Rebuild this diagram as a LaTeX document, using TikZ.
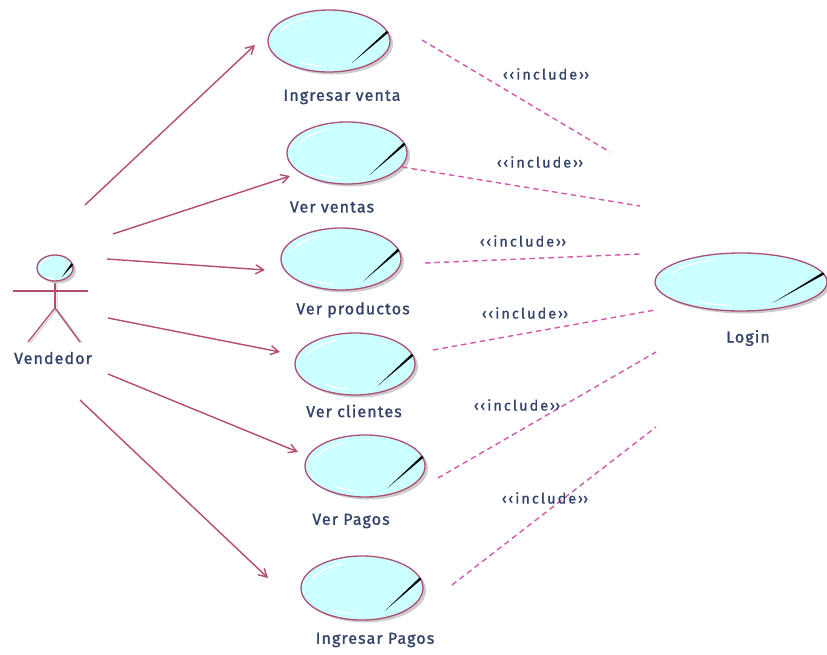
\documentclass[tikz,border=0pt]{standalone}
\usepackage{fontspec}
\setmainfont{Fira Sans}
\newfontfamily\lblfont{Fira Sans}[LetterSpace=7,FakeBold=1.4]
\newfontfamily\inclfont{Fira Sans}[LetterSpace=14,FakeBold=0.9]
\usetikzlibrary{arrows.meta,shadows,shapes.geometric}
\definecolor{ucborder}{HTML}{AC4F76}
\definecolor{ucfill}{HTML}{CCFFFF}
\definecolor{assoc}{HTML}{B24C72}
\definecolor{incl}{HTML}{D25AA8}
\definecolor{txt}{HTML}{34436A}
\tikzset{
  ucnode/.style={ellipse, draw=ucborder, line width=1.3pt, fill=ucfill, inner sep=0pt,
    drop shadow={shadow xshift=3pt, shadow yshift=-2.5pt, fill=black!20, opacity=1}},
  lbl/.style={text=txt, font=\lblfont\fontsize{16}{18}\selectfont, inner sep=0pt},
  incltxt/.style={text=txt, font=\inclfont\fontsize{14.5}{16}\selectfont, inner sep=0pt},
  assocline/.style={draw=assoc, line width=1.4pt, -{Straight Barb[length=8pt,width=9pt]}},
  inclline/.style={draw=incl, line width=1.4pt, dash pattern=on 5.5pt off 4pt},
  actorline/.style={draw=assoc, line width=1.3pt},
  actorshadow/.style={draw=black!20, line width=1pt},
}
% name, cx, cy, rx, ry
\newcommand\ucase[5]{%
  \node[ucnode, minimum width=#4*2pt, minimum height=#5*2pt] (#1) at (#2,#3) {};
  \draw[white, line width=1.1pt] plot[domain=112:160, samples=20] ({#2+0.86*#4*cos(\x)},{#3-0.82*#5*sin(\x)});
  \draw[white, line width=1.1pt] plot[domain=235:262, samples=12] ({#2+0.86*#4*cos(\x)},{#3-0.82*#5*sin(\x)});
  \fill[black] ({#2+0.96*#4+0.9},{#3-0.30*#5+0.9}) -- ({#2+0.96*#4-0.9},{#3-0.30*#5-0.9}) -- ({#2+0.37*#4},{#3+0.72*#5}) -- cycle;
}
\begin{document}
\begin{tikzpicture}[x=1pt,y=-1pt]
\useasboundingbox (0,0) rectangle (827,655);

% use cases
\ucase{uc1}{329}{41}{61}{31}
\ucase{uc2}{347}{153}{60}{31}
\ucase{uc3}{341}{259}{60}{31}
\ucase{uc4}{355}{364}{60}{31}
\ucase{uc5}{365}{466}{60}{31}
\ucase{uc6}{362}{588}{61}{32}
\ucase{login}{741}{282}{86}{29}

\node[lbl] (l1) at (342,97) {Ingresar venta};
\node[lbl] (l2) at (332,207) {Ver ventas};
\node[lbl] (l3) at (353,310) {Ver productos};
\node[lbl] (l4) at (354,411) {Ver clientes};
\node[lbl] (l5) at (351,521) {Ver Pagos};
\node[lbl] (l6) at (375,640) {Ingresar Pagos};
\node[lbl] (l7) at (748,338) {Login};

% actor
\draw[actorshadow] (57,283) -- (57,309) (30,343) -- (57,309) -- (82,343);
\draw[actorline] (55,281) -- (55,308);
\draw[actorline] (13,291) -- (88,291);
\draw[actorline] (28,342) -- (55,308) -- (80,342);
\ucase{head}{55}{268}{18}{13}
\node[lbl] (actor) at (53,358) {Vendedor};

% association endpoints
\coordinate (a1) at (85,205);  \coordinate (b1) at (255,45);
\coordinate (a2) at (113,234); \coordinate (b2) at (290,176);
\coordinate (a3) at (107,259); \coordinate (b3) at (265,270);
\coordinate (a4) at (108,318); \coordinate (b4) at (280,352);
\coordinate (a5) at (108,374); \coordinate (b5) at (298,452);
\coordinate (a6) at (80,400);  \coordinate (b6) at (268,578);
\foreach \i in {1,...,6} { \draw[assocline] (a\i) -- (b\i); }

% include endpoints
\coordinate (c1) at (422,40);  \coordinate (d1) at (610,152);
\coordinate (c2) at (402,167); \coordinate (d2) at (640,206);
\coordinate (c3) at (425,263); \coordinate (d3) at (640,254);
\coordinate (c4) at (433,350); \coordinate (d4) at (655,310);
\coordinate (c5) at (438,478); \coordinate (d5) at (656,352);
\coordinate (c6) at (452,585); \coordinate (d6) at (656,427);
\foreach \i in {1,...,6} { \draw[inclline] (c\i) -- (d\i); }

\node[incltxt] (i1) at (546,74) {‹‹include››};
\node[incltxt] (i2) at (540,162) {‹‹include››};
\node[incltxt] (i3) at (523,241) {‹‹include››};
\node[incltxt] (i4) at (525,313) {‹‹include››};
\node[incltxt] (i5) at (517,405) {‹‹include››};
\node[incltxt] (i6) at (545,498) {‹‹include››};
\end{tikzpicture}
\end{document}
